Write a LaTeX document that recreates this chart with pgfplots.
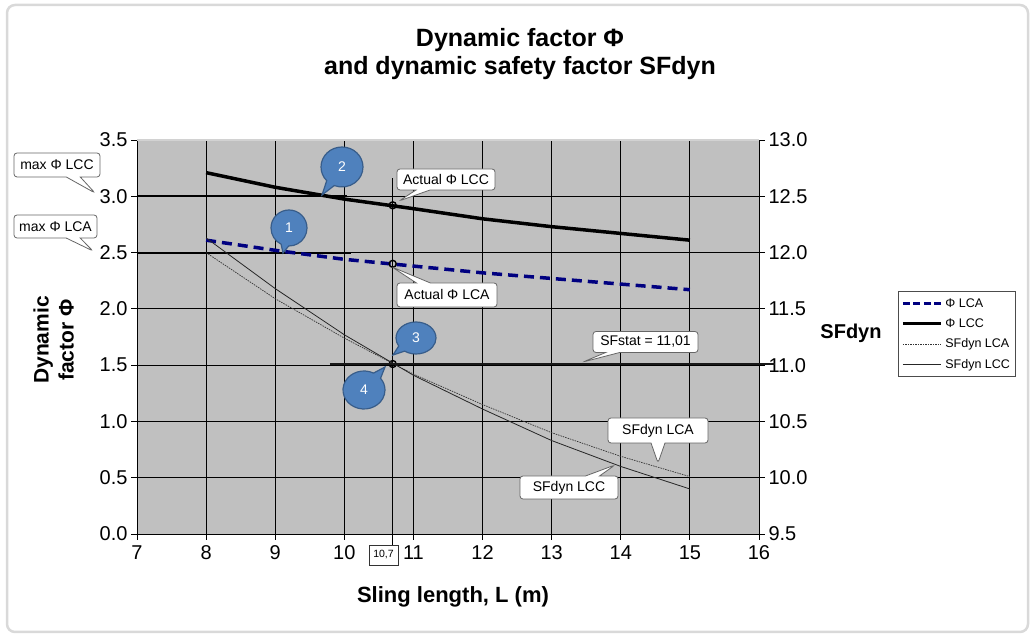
\documentclass[border=0pt]{standalone}
\usepackage{fontspec}
\setmainfont{Liberation Sans}
\usepackage{pgfplots}
\pgfplotsset{compat=1.18}
\usetikzlibrary{shapes.callouts}
\definecolor{navy}{HTML}{000080}
\definecolor{plotgray}{HTML}{C0C0C0}
\definecolor{cfill}{HTML}{4F81BD}
\definecolor{cdraw}{HTML}{385D8A}
\begin{document}
\begin{tikzpicture}[x=1pt,y=1pt]
\useasboundingbox (0,0) rectangle (1034,637);
\draw[gray!30, line width=2.5pt, rounded corners=8pt] (7,5) rectangle (1028,632);

\begin{axis}[
  at={(137pt,103pt)}, anchor=south west, scale only axis,
  width=622pt, height=394pt,
  xmin=7, xmax=16, ymin=0, ymax=3.5,
  axis background/.style={fill=plotgray},
  axis x line*=bottom, axis y line*=left,
  axis line style={black, line width=0.8pt, -},
  xtick={7,8,9,10,11,12,13,14,15,16},
  ytick={0,0.5,1,1.5,2,2.5,3,3.5},
  xmajorgrids, ymajorgrids,
  grid style={black, line width=0.8pt},
  tick align=outside, major tick length=6pt,
  tick style={black, line width=0.8pt},
  yticklabel style={/pgf/number format/.cd, fixed, fixed zerofill, precision=1},
  xticklabel style={yshift=-2pt},
  ticklabel style={font=\fontsize{20}{22}\selectfont},
  /pgf/number format/assume math mode=true,
  clip=false,
]
\draw[gray!35, line width=1.5pt] (axis cs:7,3.5) -- (axis cs:16,3.5);
% vertical line at L = 10.7
\addplot[black, line width=0.8pt] coordinates {(10.7,3.16) (10.7,-0.1)};
% max Phi lines
\addplot[black, line width=2pt] coordinates {(7,3.0) (10.04,3.0)};
\addplot[black, line width=2pt] coordinates {(7,2.5) (10.1,2.5)};
% Phi LCA
\addplot[navy, line width=3.5pt, dash pattern=on 10pt off 6pt] coordinates {
 (8,2.61) (9,2.52) (10,2.44) (11,2.38) (12,2.32) (13,2.27) (14,2.22) (15,2.17)};
% Phi LCC
\addplot[black, line width=3.5pt] coordinates {
 (8,3.21) (9,3.08) (10,2.975) (11,2.89) (12,2.80) (13,2.73) (14,2.67) (15,2.61)};
% markers
\addplot[only marks, mark=o, mark size=3.5pt, black, line width=1.4pt] coordinates {
 (10.7,2.92) (10.7,2.40) (10.7,1.51)};
\end{axis}

\begin{axis}[
  at={(137pt,103pt)}, anchor=south west, scale only axis,
  width=622pt, height=394pt,
  xmin=7, xmax=16, ymin=9.5, ymax=13,
  axis x line=none, axis y line*=right,
  axis line style={black, line width=0.8pt, -},
  ytick={9.5,10,10.5,11,11.5,12,12.5,13},
  tick align=outside, major tick length=6pt,
  tick style={black, line width=0.8pt},
  yticklabel style={/pgf/number format/.cd, fixed, fixed zerofill, precision=1},
  ticklabel style={font=\fontsize{20}{22}\selectfont},
  /pgf/number format/assume math mode=true,
  clip=false,
  legend style={at={(axis description cs:1.2235,0.617)}, anchor=north west,
    draw=black!70, line width=0.8pt, fill=white,
    font=\fontsize{12.5}{14}\selectfont, inner xsep=3pt, inner ysep=5pt,
    row sep=6pt},
  legend cell align=left,
  legend image code/.code={\draw[#1] (0pt,0pt) -- (38pt,0pt);},
  /tikz/every odd column/.append style={column sep=1pt},
]
\addlegendimage{navy, line width=3pt, dash pattern=on 7pt off 3.5pt}
\addlegendentry{Φ LCA}
\addlegendimage{black, line width=3pt}
\addlegendentry{Φ LCC}
% SFdyn LCA
\addplot[black!80, line width=0.7pt, dash pattern=on 1.5pt off 1pt] coordinates {
 (8,12.00) (9,11.59) (10,11.24) (11,10.92) (12,10.65) (13,10.40) (14,10.19) (15,10.01)};
\addlegendentry{SFdyn LCA}
% SFdyn LCC
\addplot[black!85, line width=0.8pt] coordinates {
 (8,12.13) (9,11.68) (10,11.27) (11,10.91) (12,10.61) (13,10.33) (14,10.10) (15,9.90)};
\addlegendentry{SFdyn LCC}
% SFstat
\addplot[black!90, line width=2.6pt, forget plot] coordinates {(9.79,11.01) (16.23,11.01)};
\end{axis}

% titles and labels
\node[font=\bfseries\fontsize{25}{28}\selectfont, align=center] at (520,583)
  {Dynamic factor Φ\\and dynamic safety factor SFdyn};
\node[font=\bfseries\fontsize{22}{24}\selectfont] at (453,40) {Sling length, L (m)};
\node[rotate=90, font=\bfseries\fontsize{21}{25}\selectfont, align=center] at (53.5,297)
  {Dynamic\\factor Φ};
\node[font=\bfseries\fontsize{20}{22}\selectfont] at (851,304) {SFdyn};

% 10,7 box
\node[draw=black!80, line width=0.6pt, fill=white, minimum width=29pt, minimum height=20pt,
  inner sep=1pt, font=\fontsize{10.5}{12}\selectfont] at (383.5,82) {10,7};

% text callouts
\tikzset{tc/.style={rectangle callout, draw=black!60, line width=0.8pt, fill=white,
  rounded corners=3pt, inner sep=2pt, callout pointer width=14pt,
  font=\fontsize{14}{16}\selectfont}}
\node[tc, minimum width=86pt, minimum height=24pt, callout absolute pointer={(95pt,444pt)}] at (57,472) {max Φ LCC};
\node[tc, minimum width=83pt, minimum height=23pt, callout absolute pointer={(93pt,386pt)}] at (55.5,410.5) {max Φ LCA};
\node[tc, minimum width=98pt, minimum height=21pt, callout absolute pointer={(399pt,436pt)}] at (446,457.5) {Actual Φ LCC};
\node[tc, minimum width=100pt, minimum height=24pt, callout absolute pointer={(392pt,370pt)}] at (447,342) {Actual Φ LCA};
\node[tc, minimum width=105pt, minimum height=21pt, callout absolute pointer={(583pt,275pt)}] at (645.5,295) {SFstat = 11,01};
\node[tc, minimum width=100pt, minimum height=25pt, callout absolute pointer={(658pt,174pt)}] at (658,206.5) {SFdyn LCA};
\node[tc, minimum width=98pt, minimum height=23pt, callout absolute pointer={(615pt,172pt)}] at (569,149.5) {SFdyn LCC};

% numbered callouts
\tikzset{ec/.style={ellipse callout, draw=cdraw, line width=1.2pt, fill=cfill, text=white,
  inner sep=0pt, callout pointer arc=25, font=\fontsize{14}{16}\selectfont}}
\node[ec, minimum width=42pt, minimum height=40pt, callout absolute pointer={(322pt,442pt)}] at (342,470) {2};
\node[ec, minimum width=36pt, minimum height=36pt, callout absolute pointer={(283pt,384pt)}] at (289,409) {1};
\node[ec, minimum width=40pt, minimum height=32pt, callout absolute pointer={(393pt,282pt)}] at (416,299) {3};
\node[ec, minimum width=42pt, minimum height=38pt, callout absolute pointer={(385pt,270pt)}] at (364,247) {4};
\end{tikzpicture}
\end{document}
